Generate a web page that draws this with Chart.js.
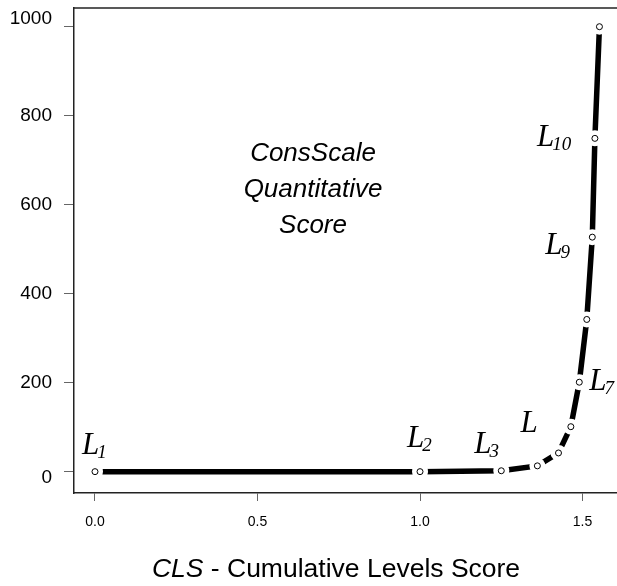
<!DOCTYPE html>
<html>
<head>
<meta charset="utf-8">
<script src="https://cdn.jsdelivr.net/npm/chart.js@4.4.1/dist/chart.umd.min.js"></script>
<style>
  html, body { margin: 0; padding: 0; background: #fff; overflow: hidden; }
  #wrap { width: 617px; height: 586px; overflow: hidden; }
</style>
</head>
<body>
<!-- canvas is a bit wider than the window: the point overflow padding (8px) then falls outside, so the box runs off the right edge -->
<div id="wrap"><canvas id="cqsChart" width="625" height="586"></canvas></div>
<script>
// CLS value of each level and its ConsScale quantitative score
let cls = [0, 1.0, 1.25, 1.361, 1.426, 1.464, 1.49, 1.513, 1.53, 1.538, 1.552];
let cqs = [0, 0, 2, 13, 42, 101, 201, 342, 527, 749, 1000];

// axis ticks
let xTicks = [0, 0.5, 1.0, 1.5];
let yTicks = [0, 200, 400, 600, 800, 1000];

// level labels: index of the point they belong to, text and subscript
let levelPoint = [0, 1, 2, 4, 6, 8, 9];
let levelText = ['L', 'L', 'L', 'L', 'L', 'L', 'L'];
let levelSub = ['1', '2', '3', '', '7', '9', '10'];

// label placement relative to its point (style only)
let levelOffset = [[-13, -18], [-13, -25], [-27, -18], [-38, -21], [10, 8], [-47, 17], [-58, 8]];
let yLabelNudge = [6, 0, 0, 0, 0, -8];

let points = cls.map(function (v, i) { return { x: v, y: cqs[i] }; });

Chart.defaults.font.family = "'Liberation Sans', Arial, sans-serif";
Chart.defaults.color = '#000';

// top frame line, y labels, level labels and texts
const extras = {
    id: 'extras',
    afterDraw(chart) {
        const ctx = chart.ctx;
        const area = chart.chartArea;
        const xs = chart.scales.x;
        const ys = chart.scales.y;
        ctx.save();

        // top edge of the box
        ctx.strokeStyle = '#222';
        ctx.lineWidth = 1.5;
        ctx.beginPath();
        ctx.moveTo(area.left, area.top);
        ctx.lineTo(area.right, area.top);
        ctx.stroke();

        // y tick labels
        ctx.fillStyle = '#000';
        ctx.font = "19px 'Liberation Sans', Arial, sans-serif";
        ctx.textAlign = 'right';
        ctx.textBaseline = 'middle';
        yTicks.forEach(function (v, i) {
            ctx.fillText(String(v), 52, ys.getPixelForValue(v) + yLabelNudge[i]);
        });

        // level labels
        ctx.textAlign = 'left';
        ctx.textBaseline = 'alphabetic';
        levelPoint.forEach(function (p, i) {
            const px = xs.getPixelForValue(cls[p]) + levelOffset[i][0];
            const py = ys.getPixelForValue(cqs[p]) + levelOffset[i][1];
            ctx.font = "italic 31px 'Liberation Serif', 'Times New Roman', serif";
            ctx.fillText(levelText[i], px, py);
            if (levelSub[i]) {
                const w = ctx.measureText(levelText[i]).width;
                ctx.font = "italic 19px 'Liberation Serif', 'Times New Roman', serif";
                ctx.fillText(levelSub[i], px + w - 2, py + 4);
            }
        });

        // big text inside the plot
        ctx.textAlign = 'center';
        ctx.font = "italic 26px 'Liberation Sans', Arial, sans-serif";
        ctx.fillText('ConsScale', 313, 161);
        ctx.fillText('Quantitative', 313, 197);
        ctx.fillText('Score', 313, 233);

        // x axis title, CLS in italics
        ctx.textAlign = 'left';
        ctx.font = "italic 26.5px 'Liberation Sans', Arial, sans-serif";
        const a = 'CLS';
        const wa = ctx.measureText(a).width;
        ctx.font = "26.5px 'Liberation Sans', Arial, sans-serif";
        const b = ' - Cumulative Levels Score';
        const wb = ctx.measureText(b).width;
        const sx = 336 - (wa + wb) / 2;
        ctx.font = "italic 26.5px 'Liberation Sans', Arial, sans-serif";
        ctx.fillText(a, sx, 577);
        ctx.font = "26.5px 'Liberation Sans', Arial, sans-serif";
        ctx.fillText(b, sx + wa, 577);

        ctx.restore();
    }
};

const chart = document.getElementById('cqsChart').getContext('2d');
const cqsChart = new Chart(chart, {
    type: 'scatter',
    data: {
        datasets: [{
            // open circles
            data: points,
            order: 0,
            pointRadius: 3,
            pointHoverRadius: 3,
            pointBackgroundColor: '#fff',
            pointBorderColor: '#000',
            pointBorderWidth: 1,
            showLine: false
        }, {
            // white gap round each circle
            data: points,
            order: 1,
            pointRadius: 8,
            pointHoverRadius: 8,
            pointBackgroundColor: '#fff',
            pointBorderWidth: 0,
            showLine: false
        }, {
            // thick curve
            data: points,
            order: 2,
            showLine: true,
            borderColor: '#000',
            borderWidth: 5.5,
            borderCapStyle: 'round',
            tension: 0,
            pointRadius: 0,
            pointHoverRadius: 0
        }]
    },
    options: {
        responsive: false,
        animation: false,
        events: [],
        layout: { padding: { top: 8, right: 0, left: 0, bottom: 0 } },
        plugins: {
            legend: { display: false },
            tooltip: { enabled: false }
        },
        scales: {
            x: {
                type: 'linear',
                min: -0.0646,
                max: 1.606,
                afterBuildTicks: function (axis) {
                    axis.ticks = xTicks.map(function (v) { return { value: v }; });
                },
                afterFit: function (axis) { axis.height = 93; },
                border: { display: true, color: '#222', width: 1.5 },
                grid: { drawOnChartArea: false, drawTicks: true, tickLength: 8, color: '#666', lineWidth: 1 },
                ticks: {
                    font: { size: 14 },
                    color: '#000',
                    padding: 13,
                    maxRotation: 0,
                    callback: function (v) { return v.toFixed(1); }
                }
            },
            y: {
                type: 'linear',
                min: -48,
                max: 1042,
                afterBuildTicks: function (axis) {
                    axis.ticks = yTicks.map(function (v) { return { value: v }; });
                },
                afterFit: function (axis) { axis.width = 74; },
                border: { display: true, color: '#222', width: 1.5 },
                grid: { drawOnChartArea: false, drawTicks: true, tickLength: 10, color: '#666', lineWidth: 1 },
                ticks: { display: false }
            }
        }
    },
    plugins: [extras]
});
</script>
</body>
</html>
